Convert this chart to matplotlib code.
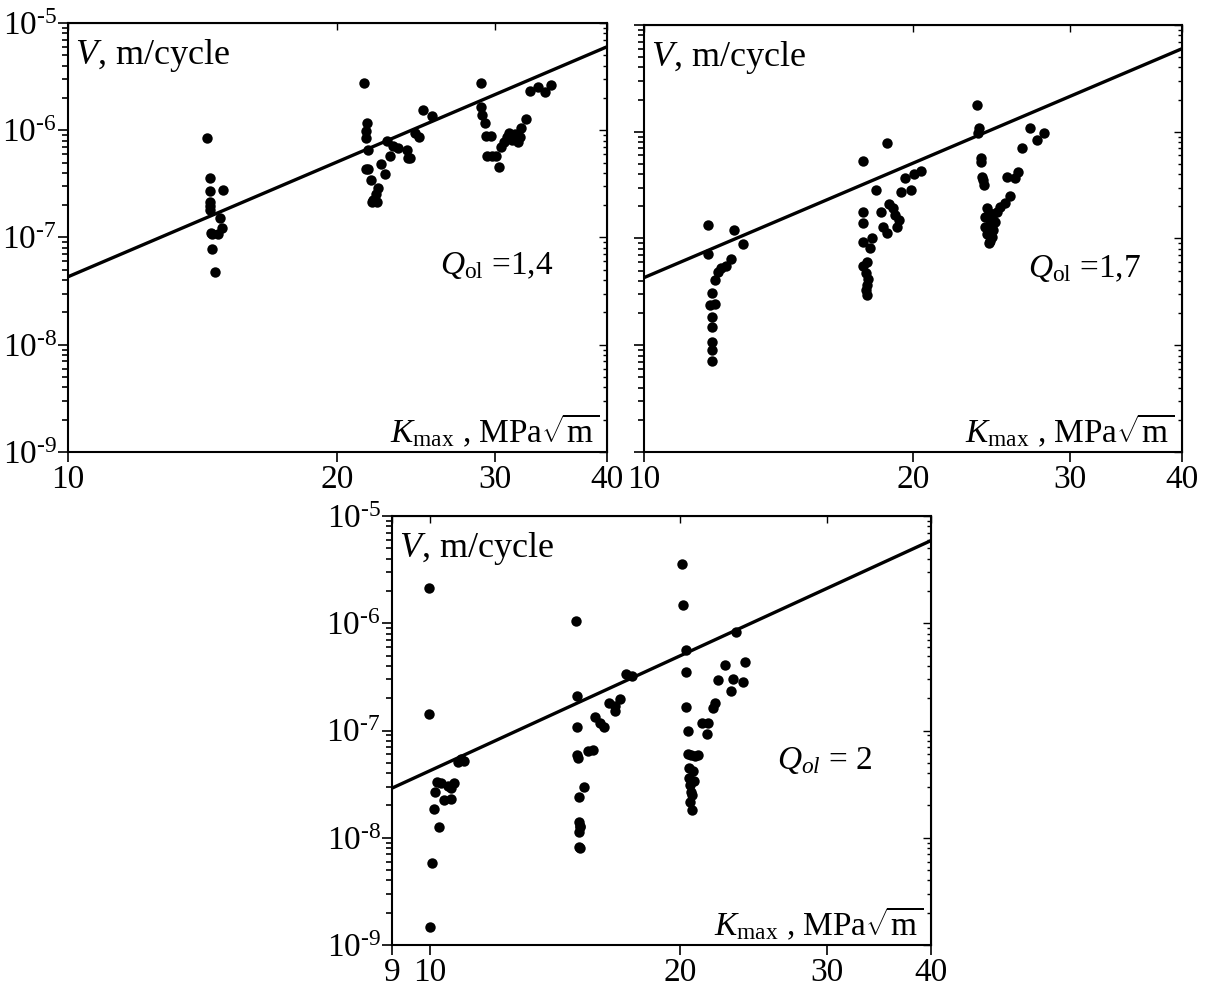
import numpy as np
import matplotlib.pyplot as plt
from matplotlib.ticker import (FixedLocator, NullLocator, LogLocator,
                               FuncFormatter, NullFormatter)

plt.rcParams['font.family'] = ['Liberation Serif', 'DejaVu Serif']
plt.rcParams['mathtext.fontset'] = 'custom'
plt.rcParams['mathtext.rm'] = 'Liberation Serif'
plt.rcParams['mathtext.it'] = 'Liberation Serif:italic'
plt.rcParams['mathtext.bf'] = 'Liberation Serif:bold'

# crack growth rate V (m/cycle) vs Kmax (MPa sqrt(m)) after overloads
k_q14 = [14.3, 14.4, 14.4, 14.4, 14.4, 14.4, 14.9, 14.8, 14.85, 14.7, 14.5, 14.45, 14.5, 14.6,
         21.4, 21.6, 21.5, 21.5, 21.65, 21.65, 21.5, 21.8, 22.2, 22.1, 21.9, 21.85, 22.15,
         22.4, 22.6, 22.9, 22.7, 23.1, 23.4, 23.9, 24.0, 24.1, 24.4, 24.7, 24.9, 25.5,
         28.9, 28.9, 29.0, 29.2, 29.3, 29.7, 29.4, 29.75, 30.1, 30.3, 30.5, 30.7, 30.9,
         31.1, 31.3, 31.6, 31.8, 32.0, 32.1, 32.5, 32.8, 33.5, 34.1, 34.6]
v_q14 = [8.55e-7, 3.61e-7, 2.71e-7, 2.16e-7, 1.96e-7, 1.79e-7, 2.75e-7, 1.53e-7, 1.23e-7,
         1.08e-7, 1.08e-7, 1.09e-7, 7.8e-8, 4.8e-8,
         2.77e-6, 1.16e-6, 9.8e-7, 8.55e-7, 6.5e-7, 4.39e-7, 4.39e-7, 3.41e-7, 2.89e-7,
         2.56e-7, 2.22e-7, 2.14e-7, 2.14e-7, 4.89e-7, 3.94e-7, 5.71e-7, 7.9e-7, 7.1e-7,
         6.9e-7, 6.5e-7, 5.56e-7, 5.51e-7, 9.5e-7, 8.65e-7, 1.54e-6, 1.35e-6,
         2.77e-6, 1.63e-6, 1.38e-6, 1.16e-6, 8.8e-7, 8.8e-7, 5.8e-7, 5.8e-7, 5.8e-7,
         4.54e-7, 6.98e-7, 7.78e-7, 8.65e-7, 9.44e-7, 8.07e-7, 9.31e-7, 7.78e-7, 8.65e-7,
         1.04e-6, 1.26e-6, 2.33e-6, 2.51e-6, 2.28e-6, 2.65e-6]

k_q17 = [11.8, 12.6, 12.9, 11.8, 12.5, 12.35, 12.2, 12.1, 12.0, 11.9, 11.85, 12.0, 11.9,
         11.9, 11.9, 11.9, 11.9,
         17.6, 18.7, 18.2, 17.6, 17.6, 18.4, 18.8, 19.0, 19.1, 19.3, 19.2, 18.5, 18.7,
         18.0, 17.9, 17.6, 17.75, 17.7, 17.75, 17.75, 19.4, 19.9, 19.6, 20.05, 20.4,
         17.6, 17.8, 17.7,
         23.6, 23.7, 23.65, 23.8, 23.85, 23.9, 23.95, 24.0, 27.0, 27.5, 28.0, 26.5, 25.5,
         26.0, 26.2, 25.7, 25.35, 25.0, 24.8, 24.2, 24.3, 24.4, 24.1, 24.7, 24.6, 24.5,
         24.3, 24.1, 24.5, 24.2, 24.6, 24.4]
v_q17 = [1.33e-7, 1.2e-7, 8.89e-8, 7.11e-8, 6.38e-8, 5.52e-8, 5.26e-8, 4.89e-8, 4.08e-8,
         3.1e-8, 2.38e-8, 2.43e-8, 1.83e-8, 1.49e-8, 1.08e-8, 9.0e-9, 7.1e-9,
         5.32e-7, 7.8e-7, 2.85e-7, 1.77e-7, 1.41e-7, 1.77e-7, 2.1e-7, 1.92e-7, 1.66e-7,
         1.49e-7, 1.29e-7, 1.29e-7, 1.13e-7, 1.0e-7, 8.1e-8, 9.33e-8, 6.07e-8, 4.78e-8,
         3.67e-8, 2.96e-8, 2.75e-7, 2.85e-7, 3.66e-7, 4.02e-7, 4.32e-7,
         5.5e-8, 4.2e-8, 3.3e-8,
         1.78e-6, 1.08e-6, 9.67e-7, 5.64e-7, 5.24e-7, 3.79e-7, 3.53e-7, 3.17e-7, 1.09e-6,
         8.37e-7, 9.8e-7, 7.0e-7, 3.79e-7, 3.66e-7, 4.23e-7, 2.5e-7, 2.14e-7, 1.99e-7,
         1.78e-7, 1.92e-7, 1.72e-7, 1.49e-7, 1.29e-7, 1.44e-7, 1.2e-7, 1.04e-7, 9.0e-8,
         1.6e-7, 1.35e-7, 1.1e-7, 1.7e-7, 9.5e-8]

k_q20 = [9.96, 9.98, 10.9, 11.0, 10.8, 10.2, 10.3, 10.5, 10.6, 10.7, 10.15, 10.4, 10.6,
         10.1, 10.25, 10.05, 10.0,
         14.96, 15.0, 15.0, 15.0, 15.05, 15.3, 15.1, 15.1, 15.15, 15.1, 15.15, 15.1, 15.15,
         15.5, 15.7, 15.8, 16.0, 16.2, 16.4, 16.7, 16.7, 16.9, 17.2, 17.5,
         20.1, 20.15, 20.3, 20.3, 20.3, 20.4, 20.4, 20.6, 20.8, 21.0, 20.45, 20.5, 20.55,
         20.6, 20.55, 20.65, 20.7, 20.75, 20.65, 21.2, 21.5, 21.6, 21.9, 22.0, 22.2, 22.6,
         23.0, 23.1, 23.3, 23.75, 23.9]
v_q20 = [2.14e-6, 1.43e-7, 5.4e-8, 5.2e-8, 5.14e-8, 3.29e-8, 3.22e-8, 3.06e-8, 2.93e-8,
         3.22e-8, 2.65e-8, 2.24e-8, 2.29e-8, 1.85e-8, 1.26e-8, 5.83e-9, 1.46e-9,
         1.04e-6, 2.09e-7, 1.07e-7, 5.93e-8, 5.52e-8, 2.99e-8, 2.41e-8, 1.41e-8, 1.26e-8,
         1.13e-8, 1.3e-8, 8.2e-9, 8.0e-9, 6.38e-8, 6.6e-8, 1.33e-7, 1.18e-7, 1.09e-7,
         1.81e-7, 1.51e-7, 1.69e-7, 1.95e-7, 3.34e-7, 3.22e-7,
         3.6e-6, 1.48e-6, 5.61e-7, 3.54e-7, 1.65e-7, 9.8e-8, 6.02e-8, 5.9e-8, 5.8e-8,
         5.9e-8, 4.45e-8, 3.58e-8, 3.1e-8, 2.69e-8, 2.17e-8, 1.81e-8, 4.2e-8, 3.4e-8,
         2.5e-8, 1.18e-7, 9.3e-8, 1.18e-7, 1.63e-7, 1.81e-7, 2.94e-7, 4.09e-7, 2.36e-7,
         3.04e-7, 8.34e-7, 2.83e-7, 4.4e-7]

# power-law fit line, end points
fit_k_top = [10, 40]
fit_v_top = [4.3e-8, 6.0e-6]
fit_k_bot = [9, 40]
fit_v_bot = [2.9e-8, 5.9e-6]

xticks_top = [10, 20, 30, 40]
xticks_bot = [9, 10, 20, 30, 40]

TICK_FS = 24
TEXT_FS = 26
NOTE_FS = 24


def decade_label(y, _):
    e = int(round(np.log10(y)))
    return r'$10^{\text{-}%d}$' % abs(e) if e < 0 else r'$10^{%d}$' % e


def draw_panel(ax, k, v, fit_k, fit_v, xticks, xlim, q_text, q_xy, ylabels=True):
    ax.set_xscale('log')
    ax.set_yscale('log')
    ax.set_xlim(xlim)
    ax.set_ylim(1e-9, 1e-5)

    ax.plot(fit_k, fit_v, color='black', lw=2.4, solid_capstyle='butt')
    ax.plot(k, v, 'o', color='black', ms=7.5, mew=0)

    ax.xaxis.set_major_locator(FixedLocator(xticks))
    ax.xaxis.set_major_formatter(FuncFormatter(lambda x, _: f'{x:g}'))
    ax.xaxis.set_minor_locator(NullLocator())
    ax.yaxis.set_major_locator(LogLocator(base=10, numticks=10))
    ax.yaxis.set_minor_locator(LogLocator(base=10, subs=np.arange(2, 10), numticks=10))
    ax.yaxis.set_minor_formatter(NullFormatter())
    if ylabels:
        ax.yaxis.set_major_formatter(FuncFormatter(decade_label))
    else:
        ax.yaxis.set_major_formatter(NullFormatter())

    ax.tick_params(which='both', direction='out', labelsize=TICK_FS, width=1.2, color='black')
    ax.tick_params(which='major', length=7)
    ax.tick_params(which='minor', length=4)
    ax.tick_params(axis='x', pad=2)
    ax.tick_params(axis='y', pad=1)
    for s in ax.spines.values():
        s.set_linewidth(1.5)

    # small inward ticks on the right and top frame
    sy = ax.secondary_yaxis('right')
    sy.tick_params(which='both', direction='in', width=1.0)
    sy.tick_params(which='major', length=6)
    sy.tick_params(which='minor', length=3)
    sy.yaxis.set_major_formatter(NullFormatter())
    sy.yaxis.set_minor_formatter(NullFormatter())
    sx = ax.secondary_xaxis('top')
    sx.set_xticks(xticks)
    sx.xaxis.set_minor_locator(NullLocator())
    sx.xaxis.set_major_formatter(NullFormatter())
    sx.tick_params(which='both', direction='in', length=5, width=1.0)

    ax.text(0.013, 0.905, r'$V$, m/cycle', transform=ax.transAxes,
            fontsize=TEXT_FS, ha='left', va='baseline')
    ax.text(0.985, 0.023, r'$K_{\mathrm{max}}$ , MPa$\sqrt{\mathrm{m}}$',
            transform=ax.transAxes, fontsize=NOTE_FS, ha='right', va='baseline')
    ax.text(q_xy[0], q_xy[1], q_text, transform=ax.transAxes,
            fontsize=NOTE_FS, ha='left', va='baseline')


fig = plt.figure(figsize=(12.09, 9.96), dpi=100)
ax1 = fig.add_axes([0.0562, 0.5462, 0.4458, 0.4307])
ax2 = fig.add_axes([0.5327, 0.5462, 0.4450, 0.4287])
ax3 = fig.add_axes([0.3242, 0.0512, 0.4458, 0.4307])

draw_panel(ax1, k_q14, v_q14, fit_k_top, fit_v_top, xticks_top, (10, 40),
           r'$Q_{\mathrm{ol}}$ =1,4', (0.69, 0.415))
draw_panel(ax2, k_q17, v_q17, fit_k_top, fit_v_top, xticks_top, (10, 40),
           r'$Q_{\mathrm{ol}}$ =1,7', (0.714, 0.41), ylabels=False)
draw_panel(ax3, k_q20, v_q20, fit_k_bot, fit_v_bot, xticks_bot, (9, 40),
           r'$Q_{ol}$ = 2', (0.714, 0.41))

fig.savefig('out.png', dpi=100)
